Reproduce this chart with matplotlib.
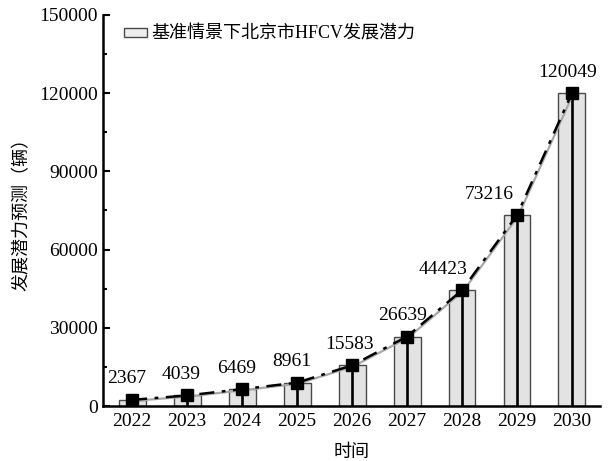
import numpy as np
import matplotlib.pyplot as plt
from matplotlib.patches import Patch
from matplotlib.ticker import MultipleLocator

plt.rcParams['font.family'] = ['Liberation Serif', 'Noto Sans CJK SC']
plt.rcParams['axes.unicode_minus'] = False

# 北京市HFCV发展潜力预测数据
years = ['2022', '2023', '2024', '2025', '2026', '2027', '2028', '2029', '2030']
potential = [2367, 4039, 6469, 8961, 15583, 26639, 44423, 73216, 120049]
# 数值标签的水平偏移 (pt)
label_dx = [-4, -4, -4, -4, -2, -3, -14, -20, -3]

x = np.arange(len(years))

fig = plt.figure(figsize=(6.11, 4.61), dpi=100)
ax = fig.add_axes([0.1686, 0.1193, 0.8134, 0.8482])

ax.bar(x, potential, width=0.49, color='#e3e3e3', edgecolor='#4a4a4a',
       linewidth=1.0, zorder=2)
ax.vlines(x, 0, potential, color='black', linewidth=1.9, zorder=3)

# 阴影线 + 点划线
ax.plot(x + 0.02, np.array(potential) - 400, color='#a8a8a8', linewidth=1.6,
        zorder=3, solid_capstyle='butt')
ax.plot(x, potential, color='black', linestyle=(0, (6, 3, 1.5, 3)),
        linewidth=1.8, marker='s', markersize=9, markerfacecolor='black',
        markeredgecolor='black', zorder=4)

for xi, v, dx in zip(x, potential, label_dx):
    ax.annotate(str(v), (xi, v), xytext=(dx, 9), textcoords='offset points',
                ha='center', va='bottom', fontsize=14)

ax.set_xlim(-0.53, 8.51)
ax.set_ylim(0, 150000)
ax.set_xticks(x)
ax.set_xticklabels(years)
ax.yaxis.set_major_locator(MultipleLocator(30000))
ax.yaxis.set_minor_locator(MultipleLocator(15000))
ax.tick_params(axis='y', which='major', direction='in', length=5, width=1.5,
               labelsize=14)
ax.tick_params(axis='y', which='minor', direction='in', length=3, width=1.5)
ax.tick_params(axis='x', direction='in', length=0, labelsize=14, pad=5)

for side in ['top', 'right']:
    ax.spines[side].set_visible(False)
for side in ['left', 'bottom']:
    ax.spines[side].set_linewidth(1.8)

ax.set_xlabel('时间', fontsize=13, labelpad=10)
ax.set_ylabel('发展潜力预测（辆）', fontsize=13, labelpad=6)

handle = Patch(facecolor='#eeeeee', edgecolor='#4a4a4a', linewidth=1.0)
ax.legend([handle], ['基准情景下北京市HFCV发展潜力'], loc='upper left',
          frameon=False, fontsize=13, handlelength=1.3, handleheight=0.35,
          handletextpad=0.2, borderaxespad=0.2, bbox_to_anchor=(0.02, 1.0))

fig.savefig('out.png', dpi=100)
